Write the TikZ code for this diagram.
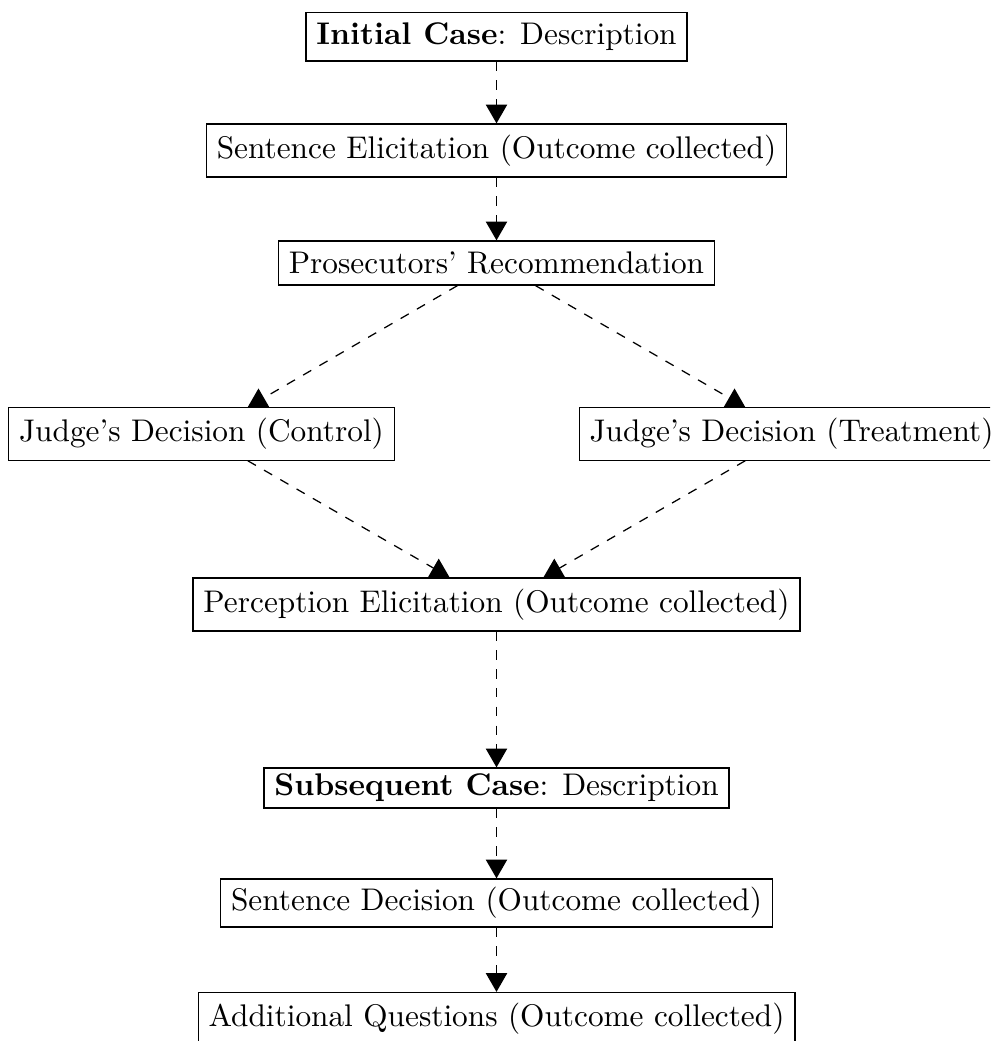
\documentclass[tikz,border=0pt]{standalone}
\usetikzlibrary{arrows.meta}
\begin{document}
\begin{tikzpicture}[x=0.3195pt, y=-0.3195pt,
  box/.style={draw, inner xsep=3.33pt, inner ysep=0pt},
  flow/.style={dashed, -{Triangle[length=6pt,width=6.8pt]}}]
\useasboundingbox (0,0) rectangle (990,1041);
\clip (0,0) rectangle (990,1041);
\node[box, minimum height=15.43pt] (b1) at (496.5,36.9) {\textbf{Initial Case}: Description};
\node[box, minimum height=16.93pt] (b2) at (496.5,150.5) {Sentence Elicitation (Outcome collected)};
\node[box, minimum height=14.06pt] (b3) at (496.5,263) {Prosecutors' Recommendation};
\node[box, minimum height=16.7pt] (b4) at (201.5,434) {Judge's Decision (Control)};
\node[box, minimum height=16.7pt] (b5) at (791.5,434) {Judge's Decision (Treatment)};
\node[box, minimum height=16.93pt] (b6) at (496.5,604.5) {Perception Elicitation (Outcome collected)};
\node[box, minimum height=12.78pt] (b7) at (496.5,788) {\textbf{Subsequent Case}: Description};
\node[box, minimum height=15.34pt] (b8) at (496.5,903) {Sentence Decision (Outcome collected)};
\node[box, minimum height=16.93pt] (b9) at (496.5,1019) {Additional Questions (Outcome collected)};
\draw[flow] (b1) -- (b2);
\draw[flow] (b2) -- (b3);
\draw[flow] (b3) -- (b4);
\draw[flow] (b3) -- (b5);
\draw[flow] (b4) -- (b6);
\draw[flow] (b5) -- (b6);
\draw[flow] (b6) -- (b7);
\draw[flow] (b7) -- (b8);
\draw[flow] (b8) -- (b9);
\end{tikzpicture}
\end{document}
